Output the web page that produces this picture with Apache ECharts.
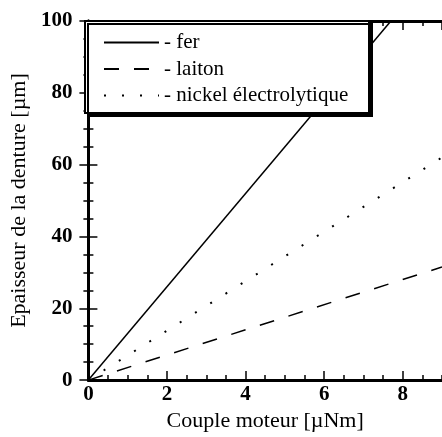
<!DOCTYPE html>
<html>
<head>
<meta charset="utf-8">
<script src="https://cdn.jsdelivr.net/npm/echarts@6/dist/echarts.min.js"></script>
<style>
  html, body { margin: 0; padding: 0; background: #fff; }
  #chart { width: 442px; height: 437px; }
</style>
</head>
<body>
<div id="chart"></div>
<script>
// Épaisseur de la denture en fonction du couple moteur, pour trois matériaux
var seriesNames = ['fer', 'laiton', 'nickel électrolytique'];
var ferX = [0, 7.7];
var ferY = [0, 100];
var laitonX = [0, 9];
var laitonY = [0, 31.5];
var nickelX = [0, 9];
var nickelY = [0, 62];

var xTicks = [0, 2, 4, 6, 8];
var yTicks = [0, 20, 40, 60, 80, 100];

function pairs(xs, ys) {
  return xs.map(function (x, i) { return [x, ys[i]]; });
}

var FONT = 'Liberation Serif';
var chart = echarts.init(document.getElementById('chart'), null, { renderer: 'canvas' });

var G = { left: 84, top: 21, width: 360, height: 363 };

function majorX(position, showLabel) {
  return {
    type: 'value', position: position, min: 0, max: 9, interval: 2,
    axisLine: { show: true, lineStyle: { color: '#000', width: 3 } },
    axisTick: { show: true, inside: true, length: 9, lineStyle: { color: '#000', width: 1.5 } },
    axisLabel: {
      show: showLabel, showMaxLabel: false, margin: 4,
      color: '#000', fontFamily: FONT, fontSize: 21, fontWeight: 'bold',
      formatter: function (v) { return xTicks.indexOf(v) >= 0 ? String(v) : ''; }
    },
    splitLine: { show: false },
    name: showLabel ? 'Couple moteur [µNm]' : '',
    nameLocation: 'middle', nameGap: 25,
    nameTextStyle: { color: '#000', fontFamily: FONT, fontSize: 22 }
  };
}
function minorX(position) {
  return {
    type: 'value', position: position, min: 0, max: 9, interval: 0.5,
    axisLine: { show: false },
    axisTick: { show: true, inside: true, length: 5, lineStyle: { color: '#000', width: 1.5 } },
    axisLabel: { show: false },
    splitLine: { show: false }
  };
}
function yAx(position, showLabel) {
  return {
    type: 'value', position: position, min: 0, max: 100, interval: 20,
    axisLine: { show: true, lineStyle: { color: '#000', width: 3 } },
    axisTick: { show: true, inside: true, length: 9, lineStyle: { color: '#000', width: 1.5 } },
    minorTick: { show: true, splitNumber: 4, length: 5, lineStyle: { color: '#000', width: 1.5 } },
    axisLabel: {
      show: showLabel, margin: 16,
      color: '#000', fontFamily: FONT, fontSize: 21, fontWeight: 'bold',
      formatter: function (v) { return yTicks.indexOf(v) >= 0 ? String(v) : ''; }
    },
    splitLine: { show: false },
    name: showLabel ? 'Epaisseur de la denture [µm]' : '',
    nameLocation: 'middle', nameGap: 52, nameRotate: 90,
    nameTextStyle: { color: '#000', fontFamily: FONT, fontSize: 22 }
  };
}

var option = {
  animation: false,
  backgroundColor: '#fff',
  grid: G,
  xAxis: [majorX('bottom', true), minorX('bottom'), majorX('top', false), minorX('top')],
  yAxis: [yAx('left', true), yAx('right', false)],
  legend: {
    orient: 'vertical', left: 103, top: 32, padding: 0,
    itemWidth: 55, itemHeight: 14, itemGap: 5.5, z: 20,
    data: seriesNames,
    itemStyle: { color: 'rgba(0,0,0,0)', borderColor: 'rgba(0,0,0,0)', borderWidth: 0 },
    formatter: function (n) { return '- ' + n; },
    textStyle: { color: '#000', fontFamily: FONT, fontSize: 21, lineHeight: 20 }
  },
  graphic: [{
    type: 'rect', z: 10,
    shape: { x: 85, y: 21, width: 284, height: 92 },
    style: { fill: '#fff', stroke: '#000', lineWidth: 2, shadowColor: '#000', shadowBlur: 0, shadowOffsetX: 3, shadowOffsetY: 3 }
  }],
  series: [
    { name: seriesNames[0], type: 'line', data: pairs(ferX, ferY), symbol: 'none', clip: true,
      lineStyle: { color: '#000', width: 1.5, type: 'solid' }, itemStyle: { color: '#000' } },
    { name: seriesNames[1], type: 'line', data: pairs(laitonX, laitonY), symbol: 'none', clip: true,
      lineStyle: { color: '#000', width: 1.5, type: [15, 15] }, itemStyle: { color: '#000' } },
    { name: seriesNames[2], type: 'line', data: pairs(nickelX, nickelY), symbol: 'none', clip: true,
      lineStyle: { color: '#000', width: 2, type: [2, 16] }, itemStyle: { color: '#000' } }
  ]
};
chart.setOption(option);
</script>
</body>
</html>
